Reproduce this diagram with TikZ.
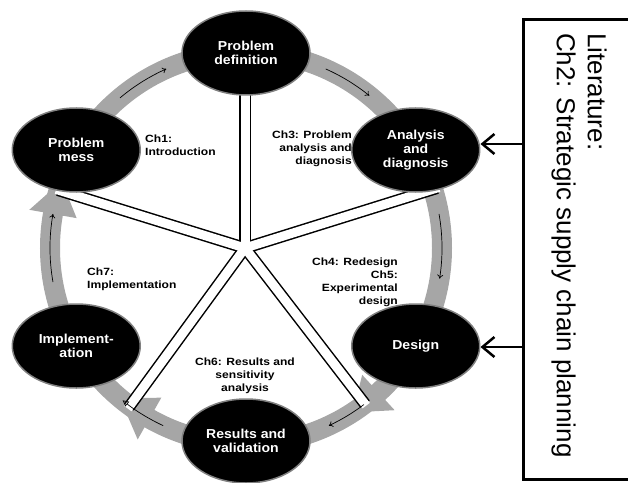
\documentclass[tikz,border=0pt]{standalone}
\usepackage{fontspec}
\setmainfont{Liberation Sans}
\newfontfamily\phasefont[FakeStretch = 1.08]{Liberation Sans}
\newfontfamily\chapfont[FakeStretch = 1.15]{Liberation Sans}
\usetikzlibrary{shapes.geometric,arrows.meta}

\begin{document}
\begin{tikzpicture}[x=1pt, y=1pt,
	phase/.style	= {ellipse, draw = black!50, line width = 1.5pt, fill = black, text = white,
			   minimum width = 128pt, minimum height = 84pt, inner sep = 0pt, align = center,
			   font = \phasefont\fontsize{13}{13.8}\selectfont\bfseries},
	chap/.style	= {inner sep = 0pt, font = \chapfont\fontsize{10.5}{13}\selectfont\bfseries},
	ring/.style	= {draw = black!35, line width = 20pt},
	turn/.style	= {line width = 0.7pt, -{To[length = 4pt, width = 6pt]}},
	spokeout/.style	= {line width = 12pt},
	spokein/.style	= {white, line width = 9pt, shorten <= -2pt},
	feed/.style	= {line width = 2.5pt, -{Straight Barb[length = 12pt, width = 20pt, line width = 2.5pt]}}]
	\useasboundingbox (-246,-234) rectangle (382,248);

	% gray cycle
	\draw[ring] (0,0) circle (196pt);
	\fill[black!35] (160:196pt) -- (170:172pt) -- (170:220pt) -- cycle;
	\fill[black!35] (230:196pt) -- (240.5:172pt) -- (240.5:220pt) -- cycle;
	\fill[black!35] (-57:196pt) -- (-47.5:172pt) -- (-47.5:220pt) -- cycle;

	% star
	\coordinate (hub) at (-1,0);
	\coordinate (sPD) at (-1,160);
	\coordinate (sPM) at (-188,58);
	\coordinate (sAD) at (191,60);
	\coordinate (sIM) at (-117,-159);
	\coordinate (sDE) at (119,-156);
	\foreach \s in {sPD, sPM, sAD, sIM, sDE}
		\draw[spokeout] (\s) -- (hub);
	\foreach \s in {sPD, sPM, sAD, sIM, sDE}
		\draw[spokein] (\s) -- (hub);
	\fill[white] (hub) circle (4.5pt);

	\draw[turn] (130:196pt) arc[start angle = 130, end angle = 114, radius = 196pt];
	\draw[turn] (66:196pt) arc[start angle = 66, end angle = 51, radius = 196pt];
	\draw[turn] (10:196pt) arc[start angle = 10, end angle = -9, radius = 196pt];
	\draw[turn] (-53:196pt) arc[start angle = -53, end angle = -65, radius = 196pt];
	\draw[turn, -{Triangle[open, length = 6pt, width = 6pt]}] (245:196pt) arc[start angle = 245, end angle = 231, radius = 196pt];
	\draw[turn] (190:196pt) arc[start angle = 190, end angle = 170, radius = 196pt];

	\node (c1) at (-101,113)	[chap, anchor = north west, align = left]	{Ch1:\\Introduction};
	\node (c3) at (106,117)		[chap, anchor = north east, align = right]	{Ch3: Problem\\analysis and\\diagnosis};
	\node (c45) at (152,-10)	[chap, anchor = north east, align = right]	{Ch4: Redesign\\Ch5:\\Experimental\\design};
	\node (c6) at (-1,-110)		[chap, anchor = north, align = center]		{Ch6: Results and\\sensitivity\\analysis};
	\node (c7) at (-159,-20)	[chap, anchor = north west, align = left]	{Ch7:\\Implementation};

	\node (PD) at (90:195pt)	[phase]	{Problem\\definition};
	\node (AD) at (30:196pt)	[phase]	{Analysis\\and\\diagnosis};
	\node (DE) at (-30:196pt)	[phase]	{Design};
	\node (RV) at (-90:193pt)	[phase]	{Results and\\validation};
	\node (IM) at (210:196pt)	[phase]	{Implement-\\ation};
	\node (PM) at (150:196pt)	[phase]	{Problem\\mess};

	% literature box
	\node (lit) at (361,215) [rotate = -90, anchor = north west, inner sep = 0pt, align = left,
		font = \fontsize{26}{31}\selectfont] {Literature:\\Ch2: Strategic supply chain planning};
	\draw[line width = 3pt] (395,228) -| (277,-231) -- (395,-231);
	\coordinate (fA) at (277,104);
	\coordinate (fD) at (277,-99);
	\draw[feed] (fA) -- (fA -| AD.east);
	\draw[feed] (fD) -- (fD -| DE.east);
\end{tikzpicture}
\end{document}
